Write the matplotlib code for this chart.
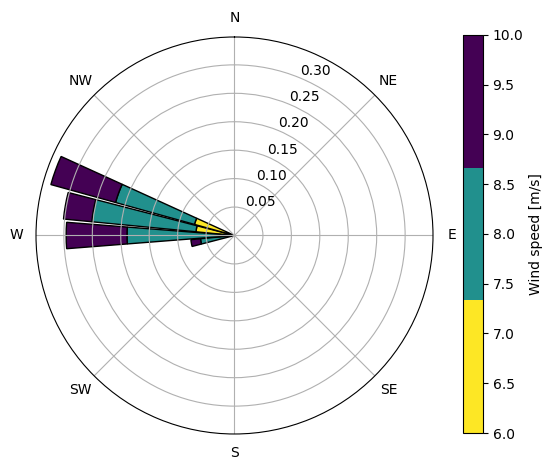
import numpy as np
import matplotlib
matplotlib.use("Agg")
import matplotlib.pyplot as plt
from matplotlib import colors as mcolors
from matplotlib.cm import ScalarMappable

# wind directions (deg, compass) and frequency per speed bin
directions = [260, 270, 280, 290]
speed_bins = [6.0, 7.333, 8.667, 10.0]
freq_low = [0.0, 0.0, 0.068, 0.073]
freq_mid = [0.060, 0.189, 0.184, 0.144]
freq_high = [0.017, 0.107, 0.050, 0.118]

cmap = plt.get_cmap('viridis_r', 3)
norm = mcolors.Normalize(vmin=speed_bins[0], vmax=speed_bins[-1])

fig = plt.figure(figsize=(5.53, 4.70), dpi=100)
ax = fig.add_axes([0.0651, 0.0766, 0.7179, 0.8447], projection='polar')
ax.set_theta_zero_location('N')
ax.set_theta_direction(-1)

theta = np.deg2rad(directions)
width = np.deg2rad(9)
bottom = np.zeros(len(directions))
for i, freqs in enumerate([freq_low, freq_mid, freq_high]):
    ax.bar(theta, freqs, width=width, bottom=bottom, color=cmap(i),
           edgecolor='black', linewidth=1)
    bottom = bottom + np.array(freqs)

ax.set_xticks(np.deg2rad(np.arange(0, 360, 45)))
ax.set_xticklabels(['N', 'NE', 'E', 'SE', 'S', 'SW', 'W', 'NW'])
ax.set_yticks([0.05, 0.10, 0.15, 0.20, 0.25, 0.30])
ax.set_ylim(0, 0.349)

cax = fig.add_axes([0.837, 0.0787, 0.0362, 0.847])
sm = ScalarMappable(norm=norm, cmap=cmap)
cb = fig.colorbar(sm, cax=cax)
cb.set_label('Wind speed [m/s]')

fig.savefig('out.png', dpi=100)
